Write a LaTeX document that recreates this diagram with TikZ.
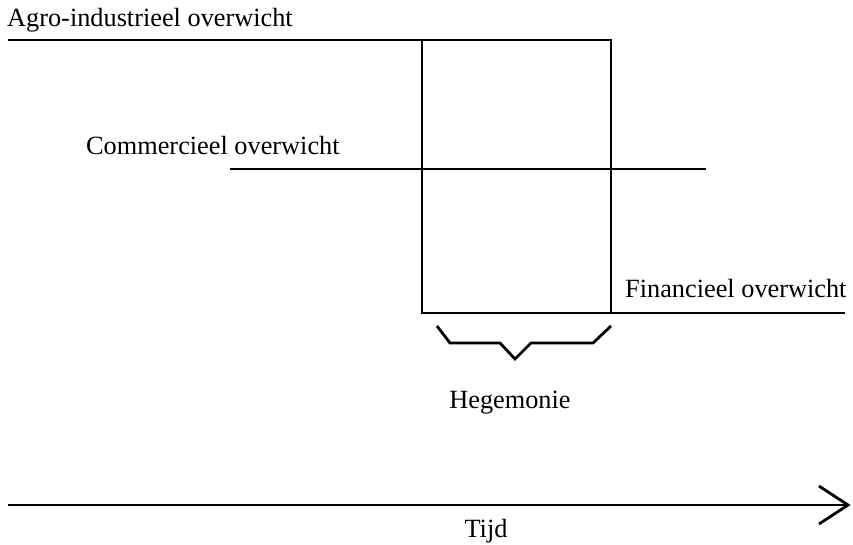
\documentclass[tikz,border=0pt]{standalone}
\usepackage{fontspec}
\setmainfont{Liberation Serif}
\begin{document}
\begin{tikzpicture}[x=1pt,y=-1pt,
  lbl/.style={inner sep=0pt,font=\fontsize{26.3}{30}\selectfont},
  ln/.style={line width=2.8pt},
  brc/.style={line width=2.8pt,line join=miter}]
\useasboundingbox (0,0) rectangle (853,544);
% coordinates
\coordinate (a0) at (8,40);
\coordinate (bTL) at (422,40);
\coordinate (bTR) at (611,40);
\coordinate (bBL) at (422,313);
\coordinate (bBR) at (611,313);
\coordinate (c0) at (230,169);
\coordinate (c1) at (706,169);
\coordinate (f1) at (845,313);
\coordinate (t0) at (8,505);
\coordinate (t1) at (848,505);
% texts
\node[lbl,anchor=base west] (agro) at (7,26) {Agro-industrieel overwicht};
\node[lbl,anchor=base west] (comm) at (86,154) {Commercieel overwicht};
\node[lbl,anchor=base west] (fin) at (625,297) {Financieel overwicht};
\node[lbl,anchor=base] (heg) at (510,408) {Hegemonie};
\node[lbl,anchor=base] (tijd) at (486,537) {Tijd};
% lines
\draw[ln] (a0) -- (bTR) -- (bBR);
\draw[ln] (bTL) -- (bBL) -- (f1);
\draw[ln] (c0) -- (c1);
% brace
\draw[brc] (437,326) -- (450,343) -- (500,343) -- (515,359) -- (531,343) -- (593,343) -- (611,326);
% time arrow
\draw[ln] (t0) -- (t1);
\draw[ln,line join=miter] (819,486) -- (t1) -- (819,524);
\end{tikzpicture}
\end{document}
